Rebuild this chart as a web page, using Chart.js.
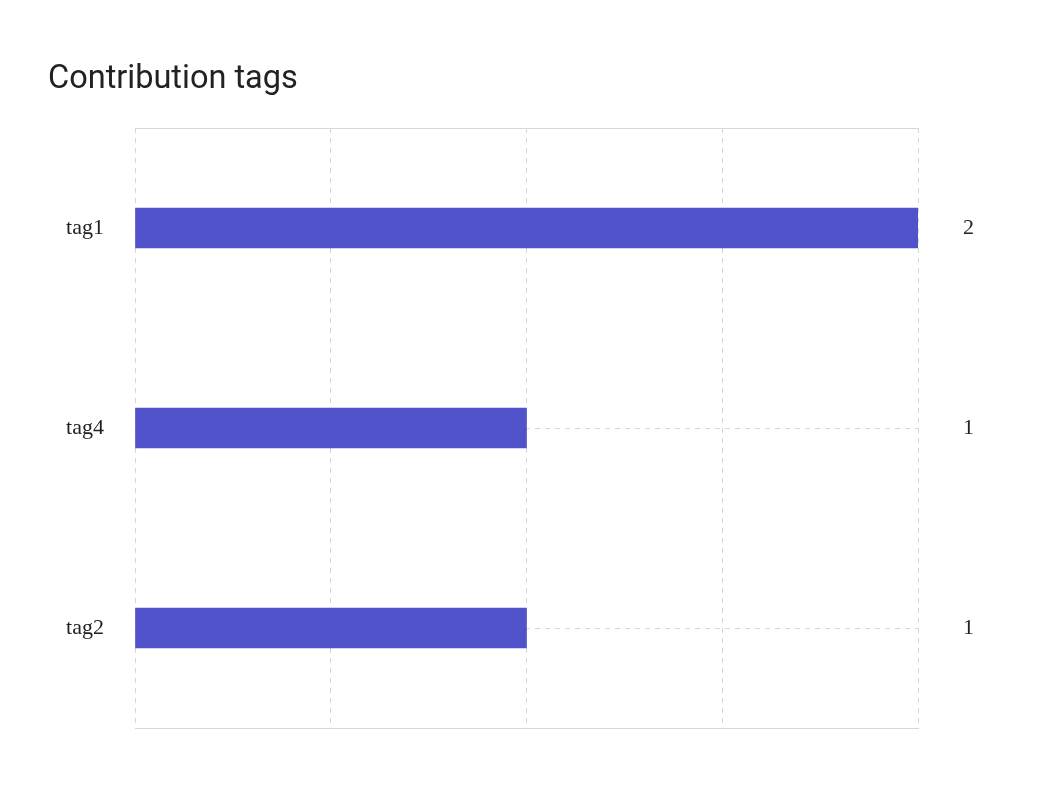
<!DOCTYPE html>
<html>
<head>
<meta charset="utf-8">
<script src="https://cdn.jsdelivr.net/npm/chart.js@4"></script>
<style>
  html, body { margin: 0; padding: 0; background: #fff; }
  #wrap { width: 1040px; height: 800px; position: relative; }
</style>
</head>
<body>
<div id="wrap"><canvas id="c"></canvas></div>
<script>
const categories = ['tag1', 'tag4', 'tag2'];
const counts = [2, 1, 1];
const rightLabels = ['2', '1', '1'];
const xMin = 0, xMax = 2, xStep = 0.5;

const gridColor = '#d6d6d6';
const dash = [5, 5];
const serif = "'Liberation Serif', 'Times New Roman', serif";

new Chart(document.getElementById('c'), {
  type: 'bar',
  data: {
    labels: categories,
    datasets: [{
      data: counts,
      backgroundColor: '#5053c9',
      borderWidth: 0,
      barThickness: 40,
      yAxisID: 'y',
      xAxisID: 'x'
    }]
  },
  options: {
    indexAxis: 'y',
    responsive: true,
    maintainAspectRatio: false,
    animation: false,
    layout: { padding: { left: 48, top: 48, right: 21, bottom: 72 } },
    plugins: {
      legend: { display: false },
      tooltip: { enabled: false },
      title: {
        display: true,
        text: 'Contribution tags',
        align: 'start',
        color: '#222',
        font: { family: 'Roboto', size: 32.5, weight: 'normal' },
        padding: { top: 12, bottom: 29 }
      }
    },
    scales: {
      x: {
        type: 'linear',
        position: 'bottom',
        min: xMin, max: xMax,
        ticks: { display: false, stepSize: xStep },
        grid: { color: gridColor, drawTicks: false, lineWidth: 1 },
        border: { display: true, color: gridColor, dash: dash }
      },
      x2: {
        type: 'linear',
        position: 'top',
        min: xMin, max: xMax,
        display: true,
        ticks: { display: false },
        grid: { display: false, drawTicks: false },
        border: { display: true, color: gridColor, dash: dash }
      },
      y: {
        type: 'category',
        position: 'left',
        offset: true,
        ticks: { color: '#222', font: { family: serif, size: 22 }, padding: 31 },
        grid: { color: gridColor, offset: false, drawTicks: false },
        border: { display: false, dash: dash },
        afterFit: (s) => { s.width = 87; }
      },
      y2: {
        type: 'category',
        position: 'right',
        labels: rightLabels,
        offset: true,
        ticks: { color: '#222', font: { family: serif, size: 22 }, padding: 45 },
        grid: { display: false, drawTicks: false },
        border: { display: false }
      }
    }
  }
});
</script>
</body>
</html>
